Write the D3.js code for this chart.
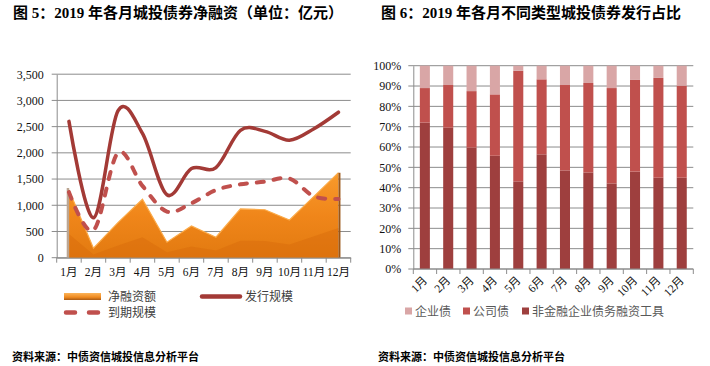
<!DOCTYPE html>
<html>
<head>
<meta charset="utf-8">
<script src="https://cdn.jsdelivr.net/npm/d3@7"></script>
<style>
  body { margin: 0; background: #fff; }
  svg { display: block; }
</style>
</head>
<body>
<svg id="chart" width="710" height="366"></svg>
<script>
// ---- data ----
const months = ["1月", "2月", "3月", "4月", "5月", "6月", "7月", "8月", "9月", "10月", "11月", "12月"];

// 图5 (亿元)
const netFinancing = [1290, 180, 670, 1115, 295, 605, 390, 930, 915, 720, 1170, 1620];
const issueScale = [2600, 760, 2800, 2370, 1200, 1700, 1720, 2430, 2410, 2240, 2460, 2775];
const maturityScale = [1250, 520, 2000, 1370, 880, 1040, 1290, 1400, 1450, 1510, 1170, 1120];
const leftTicks = [0, 500, 1000, 1500, 2000, 2500, 3000, 3500];

// 图6 (%)
const nonFinancialTools = [72.0, 69.5, 59.7, 55.7, 43.1, 56.4, 48.5, 47.5, 42.1, 47.9, 44.9, 44.9];
const corporateBonds = [17.0, 21.0, 27.8, 30.2, 54.4, 36.9, 42.0, 44.0, 46.9, 45.1, 49.1, 45.3];
const enterpriseBonds = [11.0, 9.5, 12.5, 14.1, 2.5, 6.7, 9.5, 8.5, 11.0, 7.0, 6.0, 9.8];
const rightTicks = [0, 10, 20, 30, 40, 50, 60, 70, 80, 90, 100];

const svg = d3.select("#chart");
const latin = "'Liberation Serif', 'Noto Sans CJK SC', serif";
const cjk = "'Noto Sans CJK SC', sans-serif";
const gridColor = "#8c8c8c";

// ---- titles ----
svg.append("text")
    .attr("x", 13).attr("y", 18)
    .attr("font-family", latin).attr("font-weight", "bold").attr("font-size", "15px")
    .text("图 5：2019 年各月城投债券净融资（单位：亿元）");

svg.append("text")
    .attr("x", 381).attr("y", 18)
    .attr("font-family", latin).attr("font-weight", "bold").attr("font-size", "15px")
    .text("图 6：2019 年各月不同类型城投债券发行占比");

// source lines
[12, 378].forEach(x => {
    svg.append("text")
        .attr("x", x).attr("y", 361)
        .attr("font-family", cjk).attr("font-weight", "bold").attr("font-size", "11px")
        .text("资料来源：中债资信城投信息分析平台");
});

const defs = svg.append("defs");
const grad = defs.append("linearGradient").attr("id", "orangeFill")
    .attr("x1", 0).attr("y1", 0).attr("x2", 0).attr("y2", 1);
grad.append("stop").attr("offset", "0%").attr("stop-color", "#f89a2c");
grad.append("stop").attr("offset", "50%").attr("stop-color", "#f0861a");
grad.append("stop").attr("offset", "100%").attr("stop-color", "#e27a10");

const swatchGrad = defs.append("linearGradient").attr("id", "swatchFill")
    .attr("x1", 0).attr("y1", 0).attr("x2", 0).attr("y2", 1);
swatchGrad.append("stop").attr("offset", "0%").attr("stop-color", "#fbb45a");
swatchGrad.append("stop").attr("offset", "60%").attr("stop-color", "#f08a1f");
swatchGrad.append("stop").attr("offset", "100%").attr("stop-color", "#a85a14");

// ---- left chart ----
function drawLeft() {
    const x = d3.scaleBand().domain(months).range([56.7, 350.7]).padding(0);
    const y = d3.scaleLinear().domain([0, 3500]).range([257.7, 74.2]);
    const cx = m => x(m) + x.bandwidth() / 2;
    const g = svg.append("g");

    // grid
    g.selectAll("line.grid").data(leftTicks).join("line")
        .attr("x1", x.range()[0] - 5).attr("x2", x.range()[1])
        .attr("y1", d => y(d)).attr("y2", d => y(d))
        .attr("stroke", gridColor).attr("stroke-width", 1);

    g.append("g")
        .attr("transform", `translate(${x.range()[0]},0)`)
        .call(d3.axisLeft(y).tickValues(leftTicks).tickSize(0).tickPadding(13).tickFormat(d3.format(",")))
        .call(a => a.select(".domain").attr("stroke", gridColor))
        .call(a => a.selectAll("text").attr("font-family", latin).attr("font-size", "12px").attr("fill", "#111"));

    const rows = months.map((m, i) => ({ m, net: netFinancing[i], issue: issueScale[i], mat: maturityScale[i] }));

    // area (net financing) with a darker lower facet for the 3-D look
    g.append("path").datum(rows)
        .attr("d", d3.area().x(d => cx(d.m)).y0(y(0)).y1(d => y(d.net)))
        .attr("fill", "url(#orangeFill)");
    g.append("path").datum(rows)
        .attr("d", d3.area().x(d => cx(d.m)).y0(y(0)).y1(d => y(d.net * 0.35)))
        .attr("fill", "#d86a0b").attr("opacity", 0.45);
    g.append("path").datum(rows)
        .attr("d", d3.line().x(d => cx(d.m)).y(d => y(d.net)))
        .attr("fill", "none").attr("stroke", "#fbaa48").attr("stroke-width", 1.2);
    // side walls
    g.append("line")
        .attr("x1", cx(months[0]) - 1).attr("x2", cx(months[0]) - 1)
        .attr("y1", y(0)).attr("y2", y(netFinancing[0] + 40))
        .attr("stroke", "#bba693").attr("stroke-width", 2.5);
    g.append("line")
        .attr("x1", cx(months[11]) + 1).attr("x2", cx(months[11]) + 1)
        .attr("y1", y(0)).attr("y2", y(netFinancing[11]))
        .attr("stroke", "#9a5516").attr("stroke-width", 2);

    // x axis
    g.append("g")
        .attr("transform", `translate(0,${y(0)})`)
        .call(d3.axisBottom(x).tickSize(0).tickPadding(10))
        .call(a => a.select(".domain").attr("stroke", gridColor))
        .call(a => a.selectAll("text").attr("font-family", latin).attr("font-size", "11.5px").attr("fill", "#111"));
    g.selectAll("line.xtick").data(months.concat(["end"])).join("line")
        .attr("x1", (d, i) => x.range()[0] + i * x.step()).attr("x2", (d, i) => x.range()[0] + i * x.step())
        .attr("y1", y(0)).attr("y2", y(0) + 5)
        .attr("stroke", gridColor);

    const curve = d3.curveCardinal.tension(0);
    g.append("path").datum(rows)
        .attr("d", d3.line().curve(curve).x(d => cx(d.m)).y(d => y(d.mat)))
        .attr("fill", "none").attr("stroke", "#c0504d").attr("stroke-width", 4)
        .attr("stroke-dasharray", "7,10").attr("stroke-linecap", "round");
    g.append("path").datum(rows)
        .attr("d", d3.line().curve(curve).x(d => cx(d.m)).y(d => y(d.issue)))
        .attr("fill", "none").attr("stroke", "#a33a36").attr("stroke-width", 3.5)
        .attr("stroke-linecap", "round");

    // legend
    const lg = svg.append("g").attr("font-family", cjk).attr("font-size", "12px").attr("fill", "#404040");
    lg.append("rect").attr("x", 64).attr("y", 293).attr("width", 37).attr("height", 7).attr("fill", "url(#swatchFill)");
    lg.append("text").attr("x", 108).attr("y", 300.5).text("净融资额");
    lg.append("line").attr("x1", 202).attr("x2", 240).attr("y1", 296.5).attr("y2", 296.5)
        .attr("stroke", "#a33a36").attr("stroke-width", 4.5).attr("stroke-linecap", "round");
    lg.append("text").attr("x", 245).attr("y", 300.5).text("发行规模");
    lg.append("line").attr("x1", 66).attr("x2", 100).attr("y1", 312.5).attr("y2", 312.5)
        .attr("stroke", "#c0504d").attr("stroke-width", 4.5).attr("stroke-linecap", "round")
        .attr("stroke-dasharray", "9,14");
    lg.append("text").attr("x", 108).attr("y", 317).text("到期规模");
}

// ---- right chart ----
function drawRight() {
    const x = d3.scaleBand().domain(months).range([413.3, 693.3]).paddingInner(0.57).paddingOuter(0.28);
    const y = d3.scaleLinear().domain([0, 100]).range([269, 65.7]);
    const g = svg.append("g");
    const keys = ["bottom", "mid", "top"];
    const colors = { bottom: "#9e3f3e", mid: "#c0504d", top: "#d9a6a6" };
    const rows = months.map((m, i) => ({ m, bottom: nonFinancialTools[i], mid: corporateBonds[i], top: enterpriseBonds[i] }));
    const series = d3.stack().keys(keys)(rows);

    g.selectAll("line.grid").data(rightTicks).join("line")
        .attr("x1", 413.3 - 5).attr("x2", 693.3)
        .attr("y1", d => y(d)).attr("y2", d => y(d))
        .attr("stroke", gridColor);

    g.append("g")
        .attr("transform", "translate(413.3,0)")
        .call(d3.axisLeft(y).tickValues(rightTicks).tickSize(0).tickPadding(12).tickFormat(d => d + "%"))
        .call(a => a.select(".domain").attr("stroke", gridColor))
        .call(a => a.selectAll("text").attr("font-family", latin).attr("font-size", "12px").attr("fill", "#111"));

    g.selectAll("g.layer").data(series).join("g")
        .attr("fill", d => colors[d.key])
        .selectAll("rect").data(d => d).join("rect")
        .attr("x", d => x(d.data.m))
        .attr("width", x.bandwidth())
        .attr("y", d => y(d[1]))
        .attr("height", d => y(d[0]) - y(d[1]));

    g.append("line").attr("x1", 413.3).attr("x2", 693.3).attr("y1", y(0)).attr("y2", y(0)).attr("stroke", gridColor);
    g.selectAll("line.xtick").data(months.concat(["end"])).join("line")
        .attr("x1", (d, i) => 413.3 + i * (280 / 12)).attr("x2", (d, i) => 413.3 + i * (280 / 12))
        .attr("y1", y(0)).attr("y2", y(0) + 5)
        .attr("stroke", gridColor);

    g.selectAll("text.xlab").data(months).join("text")
        .attr("transform", d => `translate(${x(d) + x.bandwidth() / 2 + 3},${y(0) + 12}) rotate(-45)`)
        .attr("text-anchor", "end")
        .attr("font-family", latin).attr("font-size", "11.5px").attr("fill", "#111")
        .text(d => d);

    const legendItems = [
        { label: "企业债", key: "top", x: 405 },
        { label: "公司债", key: "mid", x: 463 },
        { label: "非金融企业债务融资工具", key: "bottom", x: 522 }
    ];
    const lg = svg.append("g").attr("font-family", cjk).attr("font-size", "12px").attr("fill", "#595959");
    lg.selectAll("rect").data(legendItems).join("rect")
        .attr("x", d => d.x).attr("y", 307.5).attr("width", 7).attr("height", 7)
        .attr("fill", d => colors[d.key]);
    lg.selectAll("text").data(legendItems).join("text")
        .attr("x", d => d.x + 10).attr("y", 315.5)
        .text(d => d.label);
}

drawLeft();
drawRight();
</script>
</body>
</html>
